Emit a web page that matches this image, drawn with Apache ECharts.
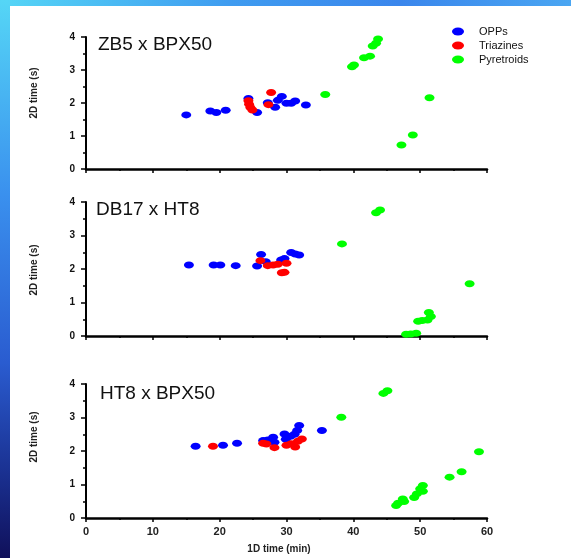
<!DOCTYPE html>
<html><head><meta charset="utf-8">
<script src="https://cdn.jsdelivr.net/npm/echarts@6/dist/echarts.min.js"></script>
<style>html,body{margin:0;padding:0;background:#fff}#c{width:571px;height:558px}</style>
</head><body><div id="c"></div>
<script>
var seriesNames = ['OPPs', 'Triazines', 'Pyretroids'];
var panelTitles = ['ZB5 x BPX50', 'DB17 x HT8', 'HT8 x BPX50'];
var xTicks = [0, 10, 20, 30, 40, 50, 60];
var yTicks = [0, 1, 2, 3, 4];

// Panel 1: ZB5 x BPX50
var zb5Opps = [[15.0,1.64],[18.6,1.76],[19.5,1.71],[20.9,1.78],[24.3,2.14],[25.6,1.71],[27.2,2.01],[28.3,1.87],[28.7,2.08],[29.3,2.20],[30.0,1.99],[30.7,1.99],[31.3,2.06],[32.9,1.94]];
var zb5Triaz = [[24.3,2.07],[24.4,1.96],[24.6,1.86],[24.9,1.79],[27.3,1.95],[27.7,2.32]];
var zb5Pyr = [[35.8,2.26],[39.8,3.10],[40.1,3.15],[41.6,3.37],[42.5,3.42],[42.9,3.73],[43.4,3.81],[43.7,3.94],[47.2,0.73],[48.9,1.03],[51.4,2.16]];

// Panel 2: DB17 x HT8
var db17Opps = [[15.4,2.12],[19.1,2.12],[20.1,2.12],[22.4,2.10],[25.6,2.09],[26.2,2.43],[26.9,2.22],[29.2,2.27],[29.7,2.31],[30.7,2.49],[31.3,2.45],[31.9,2.42]];
var db17Triaz = [[26.1,2.25],[27.2,2.10],[28.0,2.12],[28.7,2.14],[30.0,2.17],[29.3,1.89],[29.7,1.90]];
var db17Pyr = [[38.3,2.75],[43.4,3.68],[44.0,3.76],[47.9,0.05],[48.6,0.06],[49.4,0.08],[49.7,0.44],[50.3,0.46],[51.1,0.48],[51.6,0.58],[51.3,0.70],[57.4,1.56]];

// Panel 3: HT8 x BPX50
var ht8Opps = [[16.4,2.14],[20.5,2.17],[22.6,2.23],[26.5,2.31],[27.2,2.33],[28.0,2.41],[28.2,2.26],[29.7,2.51],[29.9,2.35],[30.6,2.44],[31.2,2.50],[31.6,2.61],[31.9,2.76],[35.3,2.61]];
var ht8Triaz = [[19.0,2.14],[26.5,2.23],[27.0,2.21],[28.2,2.10],[30.0,2.17],[30.7,2.22],[31.3,2.12],[31.7,2.29],[32.3,2.36]];
var ht8Pyr = [[38.2,3.01],[44.5,3.72],[45.1,3.80],[46.4,0.37],[46.7,0.44],[47.4,0.57],[47.6,0.49],[49.1,0.61],[49.5,0.72],[50.4,0.80],[50.0,0.87],[50.4,0.97],[54.4,1.22],[56.2,1.38],[58.8,1.98]];

var panelData = [[zb5Opps, zb5Triaz, zb5Pyr],[db17Opps, db17Triaz, db17Pyr],[ht8Opps, ht8Triaz, ht8Pyr]];
var colors = ['#0000ff', '#ff0000', '#00ff00'];

var FONT = '"Liberation Sans", Arial, sans-serif';
var gridTops = [37, 202, 384];
var gridHeights = [132, 134, 134];
var grids = [], xAxes = [], yAxes = [], series = [], graphics = [];

// slide background strips
graphics.push({type:'rect', left:0, top:0, shape:{width:571, height:6}, style:{fill:new echarts.graphic.LinearGradient(0,0,1,0,[{offset:0,color:'#55d6f6'},{offset:0.4,color:'#3f9cf0'},{offset:0.7,color:'#3a86ec'},{offset:1,color:'#4aa6f2'}])}, silent:true, z:-10});
graphics.push({type:'rect', left:0, top:0, shape:{width:10, height:558}, style:{fill:new echarts.graphic.LinearGradient(0,0,0,1,[{offset:0,color:'#55d6f6'},{offset:0.35,color:'#3a90ee'},{offset:0.65,color:'#2a5cd0'},{offset:0.85,color:'#1a3090'},{offset:1,color:'#10105a'}])}, silent:true, z:-10});

var titleTops = [46, 211, 395];
var titleLefts = [98, 96, 100];
var yNameCenters = [93, 270, 437];

for (var p = 0; p < 3; p++) {
  grids.push({left: 86, width: 401, top: gridTops[p], height: gridHeights[p], containLabel: false});
  xAxes.push({
    type: 'value', gridIndex: p, min: xTicks[0], max: xTicks[xTicks.length-1], interval: 10,
    axisLine: {show: true, onZero: false, lineStyle: {color: '#000', width: 2.5}},
    axisTick: {show: true, length: 4, lineStyle: {color: '#000', width: 1.5}},
    minorTick: {show: true, splitNumber: 2, length: 2, lineStyle: {color: '#000', width: 1.5}},
    splitLine: {show: false},
    axisLabel: {show: p === 2, margin: 8, color: '#222', fontFamily: FONT, fontWeight: 'bold', fontSize: 11,
      formatter: function (v) { return xTicks.indexOf(v) >= 0 ? String(v) : ''; }}
  });
  yAxes.push({
    type: 'value', gridIndex: p, min: yTicks[0], max: yTicks[yTicks.length-1], interval: 1,
    axisLine: {show: true, onZero: false, lineStyle: {color: '#000', width: 2}},
    axisTick: {show: true, length: 5, lineStyle: {color: '#000', width: 1.5}},
    minorTick: {show: true, splitNumber: 2, length: 3, lineStyle: {color: '#000', width: 1.5}},
    splitLine: {show: false},
    axisLabel: {show: true, margin: 11, color: '#111', fontFamily: FONT, fontWeight: 'bold', fontSize: 10,
      formatter: function (v) { return yTicks.indexOf(v) >= 0 ? String(v) : ''; }}
  });
  for (var s = 0; s < 3; s++) {
    series.push({
      name: seriesNames[s], type: 'scatter', xAxisIndex: p, yAxisIndex: p,
      data: panelData[p][s], symbol: 'circle', symbolSize: [10, 7],
      itemStyle: {color: colors[s], opacity: 1}, emphasis: {disabled: true}, z: 2 + s
    });
  }
  graphics.push({type: 'text', left: titleLefts[p], top: titleTops[p] - 11,
    style: {text: panelTitles[p], font: '19px ' + FONT, fill: '#111'}, silent: true});
  graphics.push({type: 'text', x: 34, y: yNameCenters[p], rotation: Math.PI / 2,
    style: {text: '2D time (s)', font: 'bold 10px ' + FONT, fill: '#222', align: 'center', verticalAlign: 'middle'}, silent: true});
}
graphics.push({type: 'text', x: 279, y: 549,
  style: {text: '1D time (min)', font: 'bold 10px ' + FONT, fill: '#222', align: 'center', verticalAlign: 'middle'}, silent: true});

var chart = echarts.init(document.getElementById('c'), null, {renderer: 'canvas'});
chart.setOption({
  animation: false,
  backgroundColor: '#fff',
  grid: grids, xAxis: xAxes, yAxis: yAxes, series: series,
  legend: {
    data: seriesNames, orient: 'vertical', left: 447, top: 21,
    itemWidth: 12, itemHeight: 8, itemGap: 3,
    icon: 'path://M0,4a6,4 0 1,0 12,0a6,4 0 1,0 -12,0z',
    textStyle: {fontFamily: FONT, fontSize: 11, color: '#111', padding: [0, 0, 0, 10]}
  },
  graphic: graphics
});
</script></body></html>
